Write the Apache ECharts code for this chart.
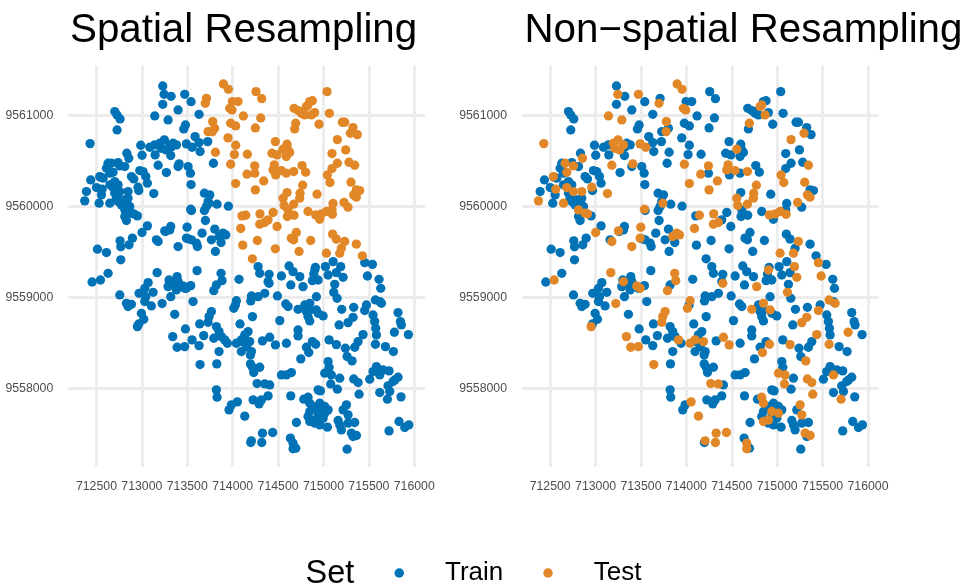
<!DOCTYPE html>
<html><head><meta charset="utf-8">
<style>html,body{margin:0;padding:0;background:#fff}#c{width:976px;height:587px}</style>
<script src="https://cdn.jsdelivr.net/npm/echarts@6/dist/echarts.min.js"></script>
</head><body><div id="c"></div>
<script>
// [easting, northing] of each location, grouped by its set in the two resamplings
const spatialTrainRandomTrain = [
[713230,9561323],[713322,9561209],[713542,9561150],[713230,9561121],[713399,9561059],[713630,9561011],[712702,9561041],[712727,9561004],[712760,9560960],[712727,9560839],[713480,9560894],[713461,9560850],[713586,9560766],[713630,9560700],[713725,9560711],[713641,9560602],[712988,9560671],[713002,9560561],[713087,9560649],[713142,9560675],[713381,9560675],[713344,9560693],[713322,9560649],[713146,9560565],[713318,9560558],[712834,9560583],[712628,9560473],[712610,9560418],[712738,9560481],[712812,9560437],[712647,9560364],[713270,9560371],[713399,9560437],[713509,9560437],[713535,9560364],[713542,9560239],[713788,9560473],[712977,9560393],[713013,9560382],[712885,9560327],[712911,9560301],[713043,9560327],[713061,9560254],[712966,9560173],[712437,9560290],[712544,9560320],[712573,9560309],[712500,9560206],[712555,9560126],[712390,9560162],[712529,9560034],[712647,9560236],[712702,9560272],[712738,9560236],[712702,9560144],[712720,9560089],[712738,9560052],[712793,9560071],[712848,9560089],[712775,9560016],[712830,9560034],[712867,9559998],[712848,9559943],[712812,9559888],[712830,9559844],[712951,9559895],[713689,9560144],[713748,9560126],[713729,9560052],[713711,9559998],[713828,9560023],[713953,9560001],[713546,9559954],[713689,9559954],[713700,9559844],[713061,9559785],[713260,9559723],[713318,9559778],[713307,9559741],[713160,9559632],[712760,9559621],[712896,9559650],[712859,9559577],[712768,9559555],[713509,9559643],[713546,9559632],[713601,9559595],[713612,9559558],[713663,9559705],[713766,9559632],[713803,9559749],[713872,9559602],[713810,9559504],[712511,9559529],[712610,9559492],[712768,9559412],
[712452,9559168],[712628,9559264],[713608,9559293],[713821,9559136],[714070,9559198],[712757,9559026],[712830,9558934],[712848,9558898],[712885,9558923],[712969,9559044],[713032,9559099],[713069,9559161],[713124,9559055],[713043,9559007],[713032,9558953],[713105,9558905],[712995,9558824],[713021,9558759],[712966,9558707],[713362,9558813],[713300,9559190],[713289,9559117],[713388,9559227],[713362,9559154],[713399,9559172],[713381,9559081],[713318,9559007],[713538,9559128],[713472,9559099],[713564,9558953],[714030,9558916],[713637,9558707],[713821,9558678],[713850,9558623],[713681,9558579],[713792,9558550],[713876,9558568],[713942,9558495],[713480,9558652],[713553,9558532],[713630,9558469],[713850,9558404],[713825,9558268],[713821,9557983],[713828,9557902],[713986,9557818],[713960,9557763],[714199,9557404],[714081,9558707],
[714280,9559337],[714298,9559264],[714401,9559253],[714390,9559172],[714621,9559344],[714665,9559282],[714739,9559227],[714537,9559234],[714640,9559136],[714911,9559329],[714893,9559256],[714878,9559183],[714941,9559190],[715021,9559337],[715106,9559392],[715051,9559245],[715142,9559271],[715539,9559362],[715612,9559198],[715631,9559099],[715124,9559143],[715150,9558989],[714353,9559044],[714280,9559007],[714207,9559015],[714199,9558960],[714493,9559015],[714585,9558927],[714610,9558898],[714922,9559007],[714794,9558916],[714812,9558843],[714849,9558861],[714830,9558788],[714849,9558740],[714996,9558795],[714941,9558824],[715201,9558868],[715333,9558890],[715172,9558696],[715473,9558916],[715620,9558953],[715546,9558806],[715821,9558832],[715847,9558733],[715858,9558696],[715935,9558590],[715564,9558733],[715575,9558660],[715583,9558587],[715682,9558458],[715770,9558404],[715381,9558513],[715344,9558451],[715241,9558440],[715260,9558349],[715062,9558532],[714720,9558641],[714720,9558576],[714519,9558744],[714218,9558788],[714328,9558521],[714592,9558495],[714878,9558513],[714812,9558451],[714750,9558323],[714170,9558623],[714133,9558587],[714096,9558404],[714152,9558458],[714207,9558404],[714196,9558367],[714096,9558513],[714196,9558268],[714218,9558231],[714298,9558231],[714232,9558173],[714408,9558037],[714537,9558147],[714592,9558147],[714647,9558173],[715051,9558294],[715062,9558231],[715179,9558111],[715153,9557990],[714941,9557983],[714966,9557972],[715583,9558239],[715546,9558184],[715509,9558100],[715656,9558202],[715722,9558191],[715821,9558122],[715785,9558092],[715711,9558027],[715766,9558074],[715620,9557953],[715730,9557964],[715854,9557906],[714640,9557917],[714390,9557917],[714317,9557873],[714291,9557829],[714225,9557873],[714636,9557452],[714695,9557342],[714702,9557624],[714783,9557880],[714959,9557836],[715014,9557800],[714849,9557745],[715051,9557763],[714830,9557690],[714959,9557598],[715043,9557573],[714941,9557690],[714996,9557672],[714886,9557800],[714977,9557763],[714904,9557617],[715216,9557763],[715344,9557624],[715271,9557617],[715161,9557646],[715179,9557598],[715197,9557543],[715326,9557470],[715260,9557331],[715722,9557532],[715832,9557635],[715895,9557569],[715939,9557598]
];
const spatialTrainRandomTest = [
[713197,9560693],[713248,9560730],[713307,9560675],[713212,9560638],[713267,9560620],[712856,9560528],[712665,9560473],[712683,9560374],[712757,9560444],[713179,9560451],[713410,9560466],[712958,9560210],[713131,9560140],[712536,9560327],[712562,9560188],[712371,9560060],[712683,9560206],[712757,9560162],[712848,9560162],[712647,9560034],[712812,9559961],[712885,9559924],[712911,9559917],[713740,9560034],[713538,9559968],[713002,9559712],[713252,9559730],[713498,9559771],[713179,9559613],[713399,9559558],[713491,9559650],[713894,9559705],[713850,9559668],[713924,9559686],[713472,9561231],[713245,9561231],[713142,9560993],[713289,9560949],[712430,9560689],[713491,9560686],[713553,9560649],
[712544,9559190],[713168,9559271],[713872,9559264],[713883,9559183],[713792,9559073],[712951,9558678],[713223,9558931],[713307,9559172],[713454,9559125],[713491,9559099],[714041,9558963],[714012,9558879],[713766,9558843],[713740,9558788],[713729,9558726],[713913,9558532],[713340,9558568],[713388,9558451],[713472,9558458],[713641,9558261],[714052,9557851],[714133,9557694],[714206,9557423],[714041,9558495],[714096,9558532],
[714401,9559154],[714775,9559117],[714904,9559300],[715190,9559337],[715216,9559220],[715454,9559381],[715484,9559234],[715113,9559055],[714849,9558934],[714720,9558868],[714922,9558861],[715326,9558780],[715271,9558722],[715454,9558854],[715572,9558971],[715638,9558934],[715781,9558616],[715436,9558590],[715572,9558484],[715315,9558301],[715142,9558480],[714408,9558561],[714471,9558477],[714915,9558484],[714838,9558393],[714188,9558513],[714269,9558052],[714353,9558048],[715014,9558166],[715087,9558147],[715333,9558103],[715381,9558063],[715080,9558048],[715392,9557935],[715620,9558147],[715704,9557880],[714328,9557507],[714441,9557514],[714320,9557404],[714665,9557397],[714665,9557335],[714830,9557902],[714849,9557836],[714941,9557745],[715014,9557726],[714849,9557635],[714904,9557653],[715253,9557818],[715271,9557708],[715308,9557507],[715363,9557481]
];
const spatialTestRandomTrain = [
[713711,9561187],[714059,9561151],[713997,9561151],[714118,9560993],[714257,9561260],[714320,9561183],[714309,9560971],[714250,9560861],[713802,9560858],[713729,9560821],[713978,9560913],[714033,9560883],[713949,9560752],[714033,9560671],[714019,9560569],[713810,9560594],[714162,9560572],[714243,9560364],[714470,9560711],[714599,9560682],[714433,9560583],[714489,9560565],[714628,9560591],[714591,9560547],[714610,9560620],[714474,9560345],[714591,9560364],[714764,9560448],[714804,9560375],[714676,9561077],[714720,9561052],[714756,9561022],[714793,9561004],[714848,9561151],[714878,9561161],[714903,9561030],[714775,9561041],[715039,9561260],[715065,9561022],[714951,9560902],[714683,9560850],[715208,9560924],[715234,9560924],[715325,9560865],[715373,9560788],[715094,9560580],[715245,9560620],[715281,9560484],[715153,9560473],[715094,9560415],[714599,9560151],[714929,9560133],[715362,9560181],[715399,9560173],[715270,9559990],[715105,9560031],[715094,9559961],[714830,9559943],[714958,9559858],[714610,9559961],[714602,9559888],[714676,9559902],[714103,9559895],[714445,9559932],[714389,9559851],[714489,9559778],[714701,9559712],[714646,9559650],[714672,9559632],[714859,9559624],[714272,9559624],[714111,9559573],[714470,9559533],[714731,9559504],[714217,9559423],[715101,9559694],[715142,9559639],[715197,9559540],[715362,9559584],[715428,9559456]
];
const spatialTestRandomTest = [
[713898,9561344],[713953,9561286],[713699,9561132],[713967,9561077],[713993,9561059],[713780,9560931],[713777,9560821],[713978,9560462],[714033,9560250],[714243,9560444],[714158,9560353],[714342,9560279],[714250,9560181],[714555,9560627],[714459,9560455],[714445,9560400],[714536,9560393],[714672,9560382],[714812,9561096],[714830,9561114],[714867,9561004],[714694,9560913],[715296,9560803],[715153,9560733],[715344,9560451],[715043,9560345],[715072,9560261],[714771,9560232],[714742,9560144],[714738,9560089],[714555,9560089],[714566,9560009],[714672,9560023],[715303,9560265],[715333,9560126],[715362,9560100],[715226,9560042],[715032,9559943],[714977,9559917],[714914,9559906],[715098,9559913],[714144,9559902],[714301,9559917],[714353,9559822],[714298,9559804],[714089,9559756],[715234,9559613],[715179,9559485],[715032,9559485]
];
const eastTicks = [712500,713000,713500,714000,714500,715000,715500,716000];
const northTicks = [9558000,9559000,9560000,9561000];
const setNames = ['Train','Test'];
const setColors = ['#0072B5','#E18727'];

const chart = echarts.init(document.getElementById('c'), null, {renderer:'canvas'});
const font = '"Liberation Sans", Arial, sans-serif';
const panelGrids = [
  {left:68.3, top:66, width:356.7, height:401},
  {left:522, top:66, width:356.7, height:401}
];
const grey = '#ececec';
function xAxis(i){return {gridIndex:i,type:'value',min:712190,max:716118,
  axisLine:{show:false},axisTick:{show:false,customValues:eastTicks},
  axisLabel:{customValues:eastTicks,color:'#4d4d4d',fontSize:12.3,fontFamily:font,margin:14,formatter:v=>String(v),hideOverlap:false},
  splitLine:{show:true,lineStyle:{color:grey,width:2.8}}};}
function yAxis(i){return {gridIndex:i,type:'value',min:9557135,max:9561542,
  axisLine:{show:false},axisTick:{show:false,customValues:northTicks},
  axisLabel:{customValues:northTicks,color:'#4d4d4d',fontSize:12.3,fontFamily:font,margin:15,formatter:v=>String(v)},
  splitLine:{show:true,lineStyle:{color:grey,width:2.8}}};}
function scatter(name,i,data,c){return {name:name,type:'scatter',xAxisIndex:i,yAxisIndex:i,data:data,symbolSize:9.3,
  itemStyle:{color:c,opacity:1},silent:true,animation:false,clip:false};}
chart.setOption({
  animation:false,backgroundColor:'#fff',
  title:[
    {text:'Spatial Resampling',left:65,top:6,textStyle:{fontFamily:font,fontSize:40.3,fontWeight:'normal',color:'#000'}},
    {text:'Non\u2212spatial Resampling',left:519.5,top:6,textStyle:{fontFamily:font,fontSize:40.3,fontWeight:'normal',color:'#000'}},
    {text:'Set',left:300.5,top:553,textStyle:{fontFamily:font,fontSize:32.5,fontWeight:'normal',color:'#000'}}
  ],
  legend:{left:389.5,top:555,orient:'horizontal',data:setNames.map(n=>({name:n,icon:'circle'})),itemWidth:9.5,itemHeight:9.5,itemGap:40,
    textStyle:{fontFamily:font,fontSize:26,color:'#000',padding:[0,0,0,36]},selectedMode:false},
  grid:panelGrids,
  xAxis:[xAxis(0),xAxis(1)],
  yAxis:[yAxis(0),yAxis(1)],
  series:[
    scatter(setNames[0],0,spatialTrainRandomTrain.concat(spatialTrainRandomTest),setColors[0]),
    scatter(setNames[1],0,spatialTestRandomTrain.concat(spatialTestRandomTest),setColors[1]),
    scatter(setNames[0],1,spatialTrainRandomTrain.concat(spatialTestRandomTrain),setColors[0]),
    scatter(setNames[1],1,spatialTrainRandomTest.concat(spatialTestRandomTest),setColors[1])
  ]
});
</script></body></html>
